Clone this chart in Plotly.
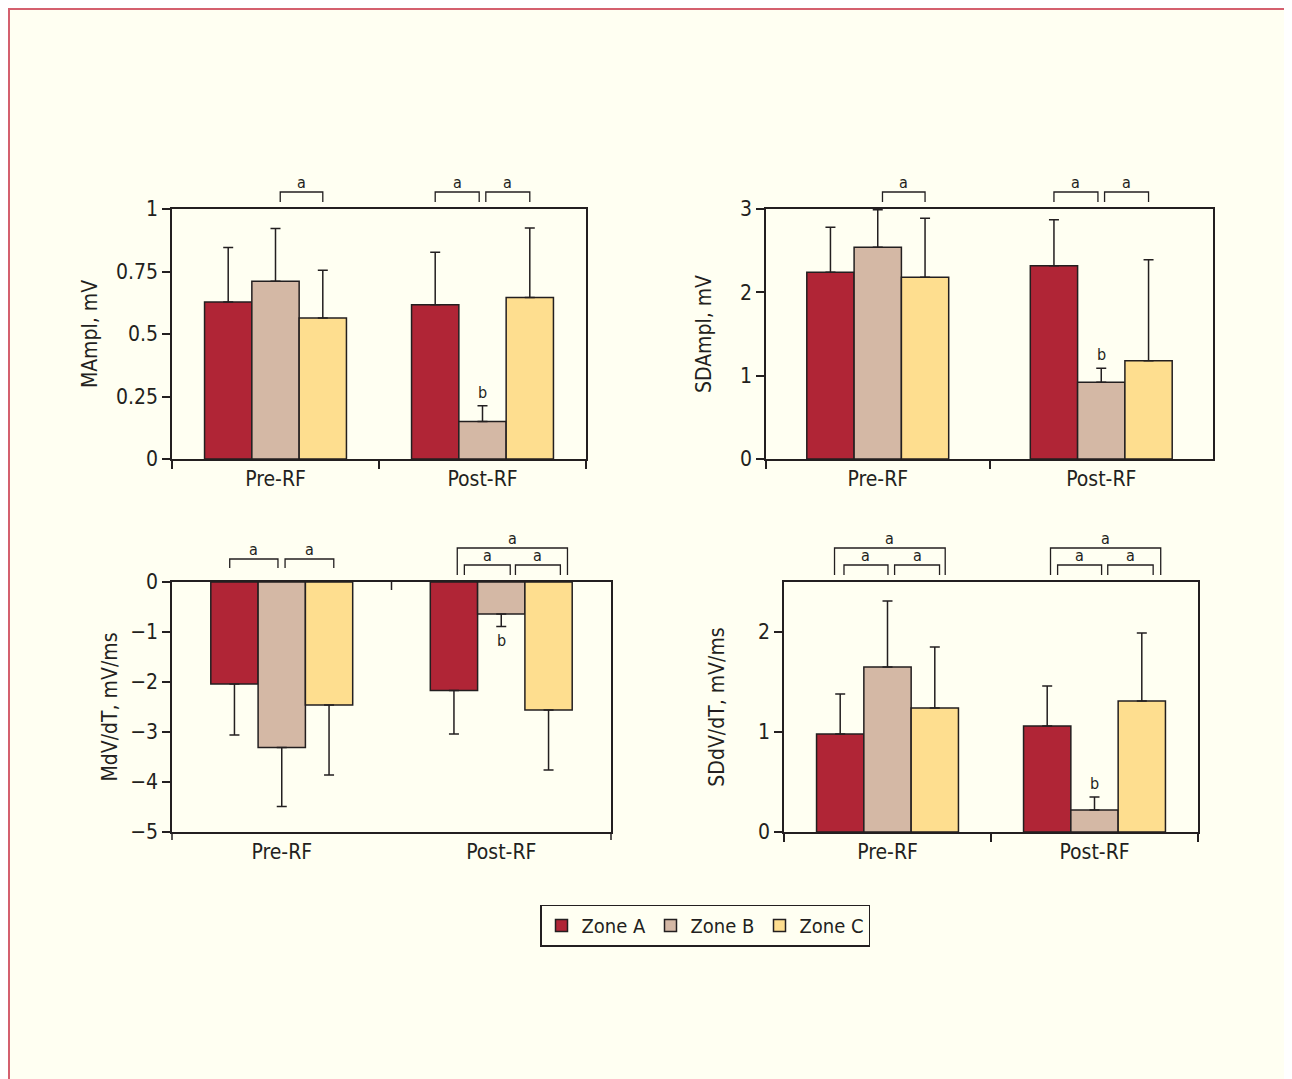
import plotly.graph_objects as go

# ---------------- data ----------------
categories = ["Pre-RF", "Post-RF"]
zones = ["Zone A", "Zone B", "Zone C"]
zone_colors = ["#B02536", "#D4B8A5", "#FEDE8F"]

# MAmpl, mV
mampl_a = [0.628, 0.617]
mampl_b = [0.711, 0.150]
mampl_c = [0.564, 0.646]
mampl_a_sd = [0.218, 0.210]
mampl_b_sd = [0.211, 0.063]
mampl_c_sd = [0.191, 0.278]

# SDAmpl, mV
sdampl_a = [2.24, 2.32]
sdampl_b = [2.54, 0.92]
sdampl_c = [2.18, 1.18]
sdampl_a_sd = [0.54, 0.55]
sdampl_b_sd = [0.45, 0.17]
sdampl_c_sd = [0.71, 1.21]

# MdV/dT, mV/ms
mdvdt_a = [-2.04, -2.17]
mdvdt_b = [-3.31, -0.64]
mdvdt_c = [-2.46, -2.56]
mdvdt_a_sd = [1.02, 0.87]
mdvdt_b_sd = [1.18, 0.25]
mdvdt_c_sd = [1.40, 1.20]

# SDdV/dT, mV/ms
sddvdt_a = [0.98, 1.06]
sddvdt_b = [1.65, 0.22]
sddvdt_c = [1.24, 1.31]
sddvdt_a_sd = [0.40, 0.40]
sddvdt_b_sd = [0.66, 0.13]
sddvdt_c_sd = [0.61, 0.68]

# ---------------- layout constants ----------------
W, H = 1284, 1100
OFF = 8
INK = "#231F20"
FONT = "DejaVu Sans Condensed, Liberation Sans Narrow, sans-serif"
BG = "#FFFFF2"
BAR_PX = 47.3


def xd(px):
    return (px - OFF) / W


def yd(py):
    return 1 - (py - OFF) / H


panels = [
    dict(ax="", box=(172, 209, 586, 459), yrange=[0, 1], tickvals=[0, 0.25, 0.5, 0.75, 1],
         title="MAmpl, mV", standoff=13,
         means=[mampl_a, mampl_b, mampl_c], sds=[mampl_a_sd, mampl_b_sd, mampl_c_sd],
         brackets=[(0, 0.1, 1.0, 17, 7), (1, -1.0, -0.07, 17, 7), (1, 0.07, 1.0, 17, 7)]),
    dict(ax="2", box=(766, 209, 1213, 459), yrange=[0, 3], tickvals=[0, 1, 2, 3],
         title="SDAmpl, mV", standoff=23,
         means=[sdampl_a, sdampl_b, sdampl_c], sds=[sdampl_a_sd, sdampl_b_sd, sdampl_c_sd],
         brackets=[(0, 0.1, 1.0, 17, 7), (1, -1.0, -0.07, 17, 7), (1, 0.07, 1.0, 17, 7)]),
    dict(ax="3", box=(172, 582, 611, 832), yrange=[-5, 0], tickvals=[0, -1, -2, -3, -4, -5],
         title="MdV/dT, mV/ms", standoff=7,
         means=[mdvdt_a, mdvdt_b, mdvdt_c], sds=[mdvdt_a_sd, mdvdt_b_sd, mdvdt_c_sd],
         brackets=[(0, -1.1, -0.08, 23, 14), (0, 0.07, 1.1, 23, 14),
                   (1, -0.93, 1.40, 34, 7), (1, -0.78, 0.19, 17, 7), (1, 0.30, 1.25, 17, 7)]),
    dict(ax="4", box=(784, 582, 1198, 832), yrange=[0, 2.5], tickvals=[0, 1, 2],
         title="SDdV/dT, mV/ms", standoff=28,
         means=[sddvdt_a, sddvdt_b, sddvdt_c], sds=[sddvdt_a_sd, sddvdt_b_sd, sddvdt_c_sd],
         brackets=[(0, -1.12, 1.22, 34, 7), (0, -0.92, 0.01, 17, 7), (0, 0.15, 1.10, 17, 7),
                   (1, -0.93, 1.40, 34, 7), (1, -0.78, 0.15, 17, 7), (1, 0.28, 1.24, 17, 7)]),
]

fig = go.Figure()
shapes = []
annotations = []
layout_axes = {}

for i, p in enumerate(panels):
    x0p, y0p, x1p, y1p = p["box"]
    cat_px = (x1p - x0p) / 2.0
    bw = BAR_PX / cat_px
    plot_h = y1p - y0p
    xa = "x" + p["ax"]
    ya = "y" + p["ax"]
    negative = p["yrange"][1] <= 0

    for k, zone in enumerate(zones):
        sd = p["sds"][k]
        fig.add_trace(go.Bar(
            x=categories, y=p["means"][k], name=zone,
            width=bw, offset=(k - 1.5) * bw,
            marker=dict(color=zone_colors[k], line=dict(color=INK, width=1.5)),
            error_y=dict(type="data", symmetric=False,
                         array=[0] * len(sd) if negative else sd,
                         arrayminus=sd if negative else [0] * len(sd),
                         color=INK, thickness=1.5, width=5),
            xaxis=xa, yaxis=ya, showlegend=(i == 0), legendgroup=zone,
        ))

    xkey = "xaxis" + p["ax"]
    ykey = "yaxis" + p["ax"]
    xaxis = dict(domain=[xd(x0p), xd(x1p)], anchor=ya, type="category",
                 range=[-0.5, 1.5], showline=True, linecolor=INK, linewidth=1.5,
                 mirror=True, showgrid=False, zeroline=False, automargin=False,
                 tickfont=dict(family=FONT, size=21, color=INK),
                 fixedrange=True)
    if negative:
        xaxis.update(ticks="")
        # boundary ticks drawn manually: ends at bottom, middle on the zero line
        for fx, yb, yt in [(0, 0, -8 / plot_h), (1, 0, -8 / plot_h), (0.5, 1, 1 - 8 / plot_h)]:
            shapes.append(dict(type="line", xref=xa + " domain", yref=ya + " domain",
                               x0=fx, x1=fx, y0=yb, y1=yt, line=dict(color=INK, width=1.5)))
    else:
        xaxis.update(ticks="outside", tickson="boundaries", ticklen=8, tickwidth=1.5, tickcolor=INK)
    layout_axes[xkey] = xaxis
    layout_axes[ykey] = dict(domain=[yd(y1p), yd(y0p)], anchor=xa, range=p["yrange"],
                             tickvals=p["tickvals"], showline=True, linecolor=INK, linewidth=1.5,
                             mirror=True, ticks="outside", ticklen=8, tickwidth=1.5, tickcolor=INK,
                             showgrid=False, zeroline=False, fixedrange=True, automargin=False,
                             tickfont=dict(family=FONT, size=21, color=INK),
                             title=dict(text=p["title"], standoff=p["standoff"],
                                        font=dict(family=FONT, size=21, color=INK)))

    # significance brackets ("a")
    for (cat, u0, u1, top_px, leg_px) in p["brackets"]:
        fx0 = (cat + u0 * bw + 0.5) / 2.0
        fx1 = (cat + u1 * bw + 0.5) / 2.0
        ytop = 1 + top_px / plot_h
        yleg = 1 + leg_px / plot_h
        shapes.append(dict(type="path", xref=xa + " domain", yref=ya + " domain",
                           path=f"M {fx0},{yleg} L {fx0},{ytop} L {fx1},{ytop} L {fx1},{yleg}",
                           line=dict(color=INK, width=1.3)))
        annotations.append(dict(text="a", xref=xa + " domain", yref=ya + " domain",
                                x=(fx0 + fx1) / 2, y=ytop, yanchor="bottom", xanchor="center",
                                showarrow=False, yshift=-2,
                                font=dict(family=FONT, size=16, color=INK)))

    # "b" label on Zone B post-RF error bar
    sd_b = p["sds"][1][1]
    m_b = p["means"][1][1]
    end = m_b - sd_b if negative else m_b + sd_b
    annotations.append(dict(text="b", xref=xa, yref=ya, x=1, y=end,
                            yanchor="top" if negative else "bottom", xanchor="center",
                            yshift=-2 if negative else 2, showarrow=False,
                            font=dict(family=FONT, size=16, color=INK)))

# page frame
shapes.append(dict(type="rect", xref="paper", yref="paper", x0=1 / W, x1=1 - 1 / W,
                   y0=-0.01, y1=1 - 1 / H, line=dict(color="#D4606E", width=2),
                   layer="below"))

fig.update_layout(
    width=W, height=H, autosize=False,
    margin=dict(l=0, r=0, t=0, b=0, pad=0, autoexpand=False),
    paper_bgcolor=BG, plot_bgcolor=BG,
    barmode="group",
    font=dict(family=FONT, size=21, color=INK),
    shapes=shapes, annotations=annotations,
    legend=dict(orientation="h", x=xd(705), y=yd(925.5), xanchor="center", yanchor="middle",
                bordercolor=INK, borderwidth=1.5, bgcolor="rgba(0,0,0,0)",
                font=dict(family=FONT, size=20, color=INK), itemwidth=30,
                entrywidth=64, traceorder="normal"),
    **layout_axes,
)

fig.write_html("out.html")
